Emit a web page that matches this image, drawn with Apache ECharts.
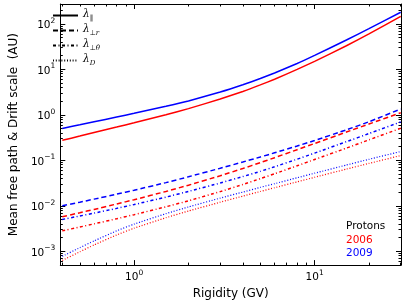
<!DOCTYPE html>
<html><head><meta charset="utf-8">
<script src="https://cdn.jsdelivr.net/npm/echarts@6/dist/echarts.min.js"></script>
<style>html,body{margin:0;padding:0;background:#fff}#c{width:407px;height:305px}</style>
</head><body><div id="c"></div>
<script>
// Rigidity (GV)
const rigidity = [0.4, 0.5, 0.6, 0.8, 1, 1.5, 2, 3, 4, 5, 6, 8, 10, 15, 20, 30];
// 2006 (red)
const par2006   = [0.275, 0.340, 0.406, 0.536, 0.667, 1.00, 1.365, 2.22, 3.25, 4.53, 6.05, 9.93, 14.9, 32.9, 59.8, 145];
const perr2006  = [0.00575, 0.00703, 0.00832, 0.01094, 0.01361, 0.02065, 0.02838, 0.0457, 0.0659, 0.0887, 0.114, 0.171, 0.234, 0.417, 0.627, 1.11];
const perth2006 = [0.00282, 0.00341, 0.00401, 0.00519, 0.00638, 0.00951, 0.01285, 0.0205, 0.0294, 0.0394, 0.0506, 0.0757, 0.104, 0.185, 0.281, 0.505];
const drift2006 = [0.000631, 0.000975, 0.00138, 0.00228, 0.00322, 0.00546, 0.00767, 0.0120, 0.0163, 0.0206, 0.0249, 0.0336, 0.0423, 0.0640, 0.0853, 0.127];
// 2009 (blue)
const par2009   = [0.501, 0.602, 0.700, 0.891, 1.078, 1.535, 2.018, 3.155, 4.56, 6.27, 8.30, 13.37, 20.2, 44.0, 78.2, 179.5];
const perr2009  = [0.0100, 0.0120, 0.0140, 0.0180, 0.0220, 0.0323, 0.0434, 0.0668, 0.0916, 0.118, 0.146, 0.206, 0.272, 0.467, 0.702, 1.34];
const perth2009 = [0.00501, 0.00597, 0.00690, 0.00877, 0.01064, 0.01552, 0.0207, 0.0317, 0.0438, 0.0571, 0.0721, 0.1057, 0.1439, 0.256, 0.387, 0.697];
const drift2009 = [0.000776, 0.00120, 0.00169, 0.00281, 0.00396, 0.00671, 0.00944, 0.01476, 0.0200, 0.0254, 0.0306, 0.0413, 0.0520, 0.0787, 0.105, 0.156];
// tick labels (powers of ten)
const xTickPowers = [0, 1];
const yTickPowers = [-3, -2, -1, 0, 1, 2];
const legendNames = ['par', 'perr', 'perth', 'drift'];
const textLines = ['Protons', '2006', '2009'];

const xMin = Math.log10(0.39), xMax = Math.log10(30.1);
const yMin = Math.log10(4.97e-4), yMax = Math.log10(272);

function minorOf(lo, hi) {
  const out = [];
  for (let p = Math.floor(lo) - 1; p <= Math.ceil(hi); p++) {
    for (let k = 2; k <= 9; k++) {
      const v = p + Math.log10(k);
      if (v > lo && v < hi) out.push(v);
    }
  }
  return out;
}
const xMinor = minorOf(xMin, xMax);
const yMinor = minorOf(yMin, yMax);

const supRich = {
  b: {fontSize: 10.5, fontFamily: 'DejaVu Sans', color: '#000', verticalAlign: 'bottom'},
  p: {fontSize: 7.5, fontFamily: 'DejaVu Sans', color: '#000', verticalAlign: 'bottom', padding: [0, 0, 6, 0]}
};
function powLabel(v) {
  const n = Math.round(v);
  return '{b|10}{p|' + (n < 0 ? '\u2212' : '') + Math.abs(n) + '}';
}

function axisCfg(kind, pos, minor, labels) {
  const isX = kind === 'x';
  const major = isX ? xTickPowers : yTickPowers;
  const mnr = isX ? xMinor : yMinor;
  return {
    type: 'value', position: pos,
    min: isX ? xMin : yMin, max: isX ? xMax : yMax,
    axisLine: {show: !minor, onZero: false, lineStyle: {color: '#000', width: 1}},
    axisTick: {show: true, inside: true, length: minor ? 2.5 : 5,
      customValues: minor ? mnr : major, lineStyle: {color: '#000', width: 1}},
    axisLabel: {show: labels, customValues: major, formatter: powLabel, rich: supRich,
      margin: isX ? 4 : 5},
    splitLine: {show: false},
    name: labels ? (isX ? 'Rigidity (GV)' : 'Mean free path & Drift scale  (AU)') : '',
    nameLocation: 'middle',
    nameGap: isX ? 18 : 35,
    nameTextStyle: {fontFamily: 'DejaVu Sans', fontSize: 12, color: '#000'}
  };
}

const styles = {
  par:   {type: 'solid', width: 1.5},
  perr:  {type: [5, 3], width: 1.5},
  perth: {type: [3, 2.5, 1, 2.5], width: 1.5},
  drift: {type: [1, 1.8], width: 1.2}
};
const red = '#ff0000', blue = '#0000ff';
const sets = [
  ['par', par2006, red], ['par', par2009, blue],
  ['perr', perr2006, red], ['perr', perr2009, blue],
  ['perth', perth2006, red], ['perth', perth2009, blue],
  ['drift', drift2006, red], ['drift', drift2009, blue]
];

const series = sets.map(([k, vals, col]) => ({
  type: 'line', name: k + '_' + col, xAxisIndex: 0, yAxisIndex: 0,
  showSymbol: false, symbol: 'none', smooth: 0.15, silent: true,
  lineStyle: Object.assign({color: col}, styles[k]),
  itemStyle: {color: col},
  data: rigidity.map((r, i) => [Math.log10(r), Math.log10(vals[i])])
}));
legendNames.forEach(k => series.push({
  type: 'line', name: k, xAxisIndex: 0, yAxisIndex: 0, symbol: 'none',
  lineStyle: Object.assign({color: '#000'}, styles[k], {width: k === 'drift' ? 1.1 : 1.4}),
  itemStyle: {color: '#000'}, data: []
}));

const legendFmt = {
  par: '{l|\u03bb}{s|\u2225}',
  perr: '{l|\u03bb}{s|\u22a5}{si|r}',
  perth: '{l|\u03bb}{s|\u22a5}{si|\u03b8}',
  drift: '{l|\u03bb}{si|D}'
};

const chart = echarts.init(document.getElementById('c'), null, {renderer: 'canvas'});
chart.setOption({
  animation: false,
  backgroundColor: '#fff',
  grid: {left: 46, right: 6, top: 4, bottom: 37, containLabel: false},
  xAxis: [axisCfg('x', 'bottom', false, true), axisCfg('x', 'bottom', true, false),
          axisCfg('x', 'top', false, false), axisCfg('x', 'top', true, false)],
  yAxis: [axisCfg('y', 'left', false, true), axisCfg('y', 'left', true, false),
          axisCfg('y', 'right', false, false), axisCfg('y', 'right', true, false)],
  legend: {
    data: legendNames, orient: 'vertical', left: 52, top: 9, padding: 0,
    itemWidth: 25, itemHeight: 10, itemGap: 2, selectedMode: false,
    itemStyle: {color: 'rgba(0,0,0,0)', borderColor: 'rgba(0,0,0,0)', borderWidth: 0, opacity: 0},
    formatter: n => legendFmt[n],
    textStyle: {color: '#000', rich: {
      l: {fontFamily: 'DejaVu Serif', fontStyle: 'italic', fontSize: 10.5, verticalAlign: 'bottom', padding: [0, 0, 2, 0]},
      s: {fontFamily: 'DejaVu Sans', fontSize: 7, verticalAlign: 'bottom'},
      si: {fontFamily: 'DejaVu Serif', fontStyle: 'italic', fontSize: 7, verticalAlign: 'bottom'}
    }}
  },
  graphic: textLines.map((t, i) => ({
    type: 'text', left: 346, top: 221 + i * 13.5,
    style: {text: t, fill: [ '#000', red, blue ][i], font: '10.5px "DejaVu Sans"'}
  })),
  series: series
});
</script></body></html>
